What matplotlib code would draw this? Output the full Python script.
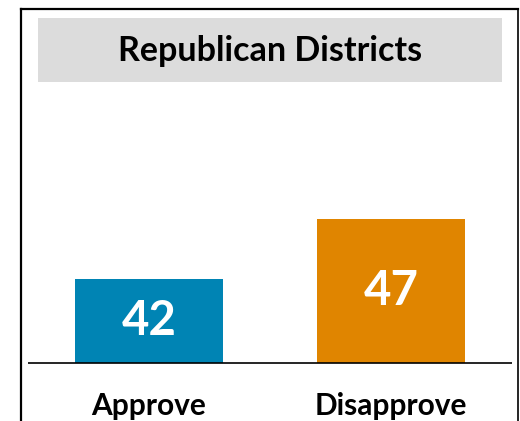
import matplotlib.pyplot as plt
from matplotlib.patches import Rectangle
from matplotlib.lines import Line2D

categories = ['Approve', 'Disapprove']
values = [42, 47]
colors = ['#0084b4', '#e08500']
title = 'Republican Districts'

W, H = 520, 421
fig = plt.figure(figsize=(W / 100, H / 100), dpi=100)
plt.rcParams['font.family'] = ['Lato', 'DejaVu Sans']


def fx(px):
    return px / W


def fy(py):
    return 1 - py / H


# outer frame (bottom edge lies outside the picture)
fig.add_artist(Line2D([fx(21), fx(21)], [fy(9), 0], color='black', lw=1.6, transform=fig.transFigure))
fig.add_artist(Line2D([fx(21), fx(517.5)], [fy(9), fy(9)], color='black', lw=1.6, transform=fig.transFigure))
fig.add_artist(Line2D([fx(517.5), fx(517.5)], [fy(9), 0], color='black', lw=1.2, transform=fig.transFigure))

# title box
fig.add_artist(Rectangle((fx(38), fy(82)), fx(502) - fx(38), fy(18) - fy(82),
                         facecolor='#dcdcdc', edgecolor='none', transform=fig.transFigure))
fig.text(fx(270), fy(61.5), title, ha='center', va='baseline', fontsize=24.5,
         fontweight='bold', color='black')

ax = fig.add_axes([fx(28), fy(363.5), fx(512) - fx(28), (363.5 - 122.3) / H])
x = range(len(categories))
bars = ax.bar(x, [v - 35 for v in values], bottom=35, width=0.61, color=colors)
ax.set_xlim(-0.5, 1.5)
ax.set_ylim(35, 55)
ax.axhline(35, color='black', lw=1.2)
for b, v in zip(bars, values):
    ax.text(b.get_x() + b.get_width() / 2, b.get_y() + b.get_height() / 2, str(v),
            ha='center', va='center', color='white', fontsize=34, fontweight='bold')
for xi, c in zip(x, categories):
    ax.text(xi, 30.75, c, ha='center', va='baseline', fontsize=21.5, fontweight='bold')
ax.axis('off')

fig.savefig('out.png', dpi=100)
